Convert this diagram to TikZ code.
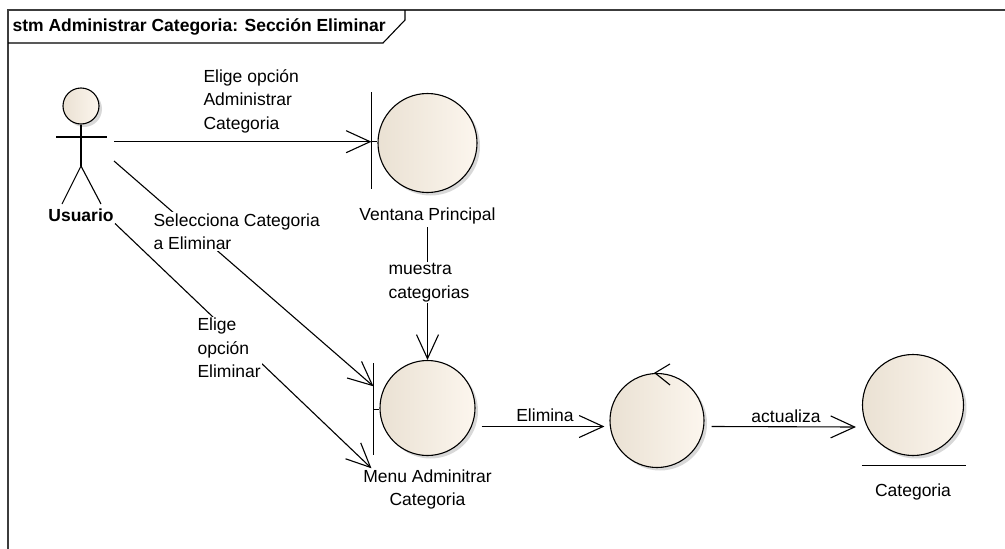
\documentclass[tikz,border=0pt]{standalone}
\usepackage{fontspec}
\setmainfont{Liberation Sans}
\usetikzlibrary{arrows.meta, positioning, calc, shadows}
\definecolor{objleft}{HTML}{EAE1D3}
\definecolor{objright}{HTML}{FCF6EE}
\definecolor{framegray}{HTML}{3C3C3C}
\newcommand{\lblfont}{\fontsize{17.5}{23.5}\selectfont}

\tikzset{
  robj/.style={circle, draw=black, line width=1.1pt, inner sep=0pt,
    left color=objleft, right color=objright,
    drop shadow={shadow xshift=3pt, shadow yshift=-3pt, fill=black!30, opacity=.5}},
  msg/.style={line width=1.1pt, -{Straight Barb[length=24pt,width=22pt]}},
  lbl/.style={fill=white, inner sep=1pt, align=left, font=\lblfont},
  caption/.style={inner sep=1pt, align=center, font=\lblfont}
}

\begin{document}
\begin{tikzpicture}[x=1pt, y=-1pt, line width=1.1pt]
  \useasboundingbox (0,0) rectangle (1005,549);

  % frame and header
  \draw[framegray, line width=1.4pt] (8,549) -- (8,10) -- (1005,10);
  \draw (8,43) -- (383,43) -- (405,20) -- (405,10);
  \node[anchor=west, inner sep=0pt, font=\bfseries\lblfont] (titulo) at (12,27)
    {stm Administrar Categoria: Sección Eliminar};

  % actor
  \node[robj, minimum size=36pt] (usuario) at (81,106) {};
  \draw (56,137) -- (107,137);
  \draw (usuario.south) -- (81,166);
  \draw (62,204) -- (81,166) -- (101,204);
  \node[caption, font=\bfseries\lblfont] (usuarioname) at (81,215) {Usuario};
  \coordinate (ua) at (114,141.7);
  \coordinate (ub) at (114,161);
  \coordinate (uc) at (115,223.5);

  % boundary: Ventana Principal
  \node[robj, minimum size=99pt] (ventana) at (427.5,143) {};
  \coordinate (ventanabar) at ($(ventana.west)+(-6,-1.3)$);
  \draw ($(ventana.west)+(-6,-51)$) -- ($(ventana.west)+(-6,46)$);
  \draw (ventanabar) -- (ventanabar -| ventana.west);
  \node[caption, below=13pt of ventana] (ventananame) {Ventana Principal};

  % boundary: Menu Adminitrar Categoria
  \node[robj, minimum size=95pt] (menu) at (427.5,408) {};
  \coordinate (menubar) at ($(menu.west)+(-6,1.3)$);
  \draw ($(menu.west)+(-6,-45)$) -- ($(menu.west)+(-6,47)$);
  \draw (menubar) -- (menubar -| menu.west);
  \coordinate (menuin1) at ($(menubar)+(0,-23)$);
  \coordinate (menuin2) at ($(menubar)+(-2,59)$);
  \node[caption, below=12pt of menu] (menuname) {Menu Adminitrar\\Categoria};

  % control
  \node[robj, minimum size=94pt] (control) at (657,420.5) {};
  \draw ([xshift=13pt,yshift=9pt]control.north) -- ([xshift=-2pt]control.north)
    -- ([xshift=13pt,yshift=-12pt]control.north);

  % entity: Categoria
  \node[robj, minimum size=101pt] (categoria) at (913,405) {};
  \draw ($(categoria.west |- categoria.south)+(0,9)$) -- ($(categoria.east |- categoria.south)+(2,9)$);
  \node[caption, below=26pt of categoria] (categorianame) {Categoria};

  % messages
  \draw[msg] (ua) -- (ventanabar);
  \draw[msg] (ub) -- (menuin1);
  \draw[msg] (uc) -- (menuin2);
  \draw[msg] ([yshift=-34pt]ventana.south) -- (menu.north);
  \draw[msg] ([xshift=6pt,yshift=-18.5pt]menu.east) -- ([xshift=-5pt,yshift=-6pt]control.west);
  \draw[msg] ([xshift=7pt,yshift=-6pt]control.east) -- ([xshift=-6pt,yshift=-22pt]categoria.west);

  % message labels
  \node[lbl, anchor=west] (m1) at (202,101) {Elige opción\\Administrar\\Categoria};
  \node[lbl, anchor=west] (m2) at (152,231.5) {Selecciona Categoria\\a Eliminar};
  \node[lbl, anchor=west] (m3) at (196,348) {Elige\\opción\\Eliminar};
  \node[lbl, anchor=west] (m4) at (387,282.5) {muestra\\categorias};
  \node[lbl] (m5) at (545,415) {Elimina};
  \node[lbl] (m6) at (786,416) {actualiza};
\end{tikzpicture}
\end{document}
